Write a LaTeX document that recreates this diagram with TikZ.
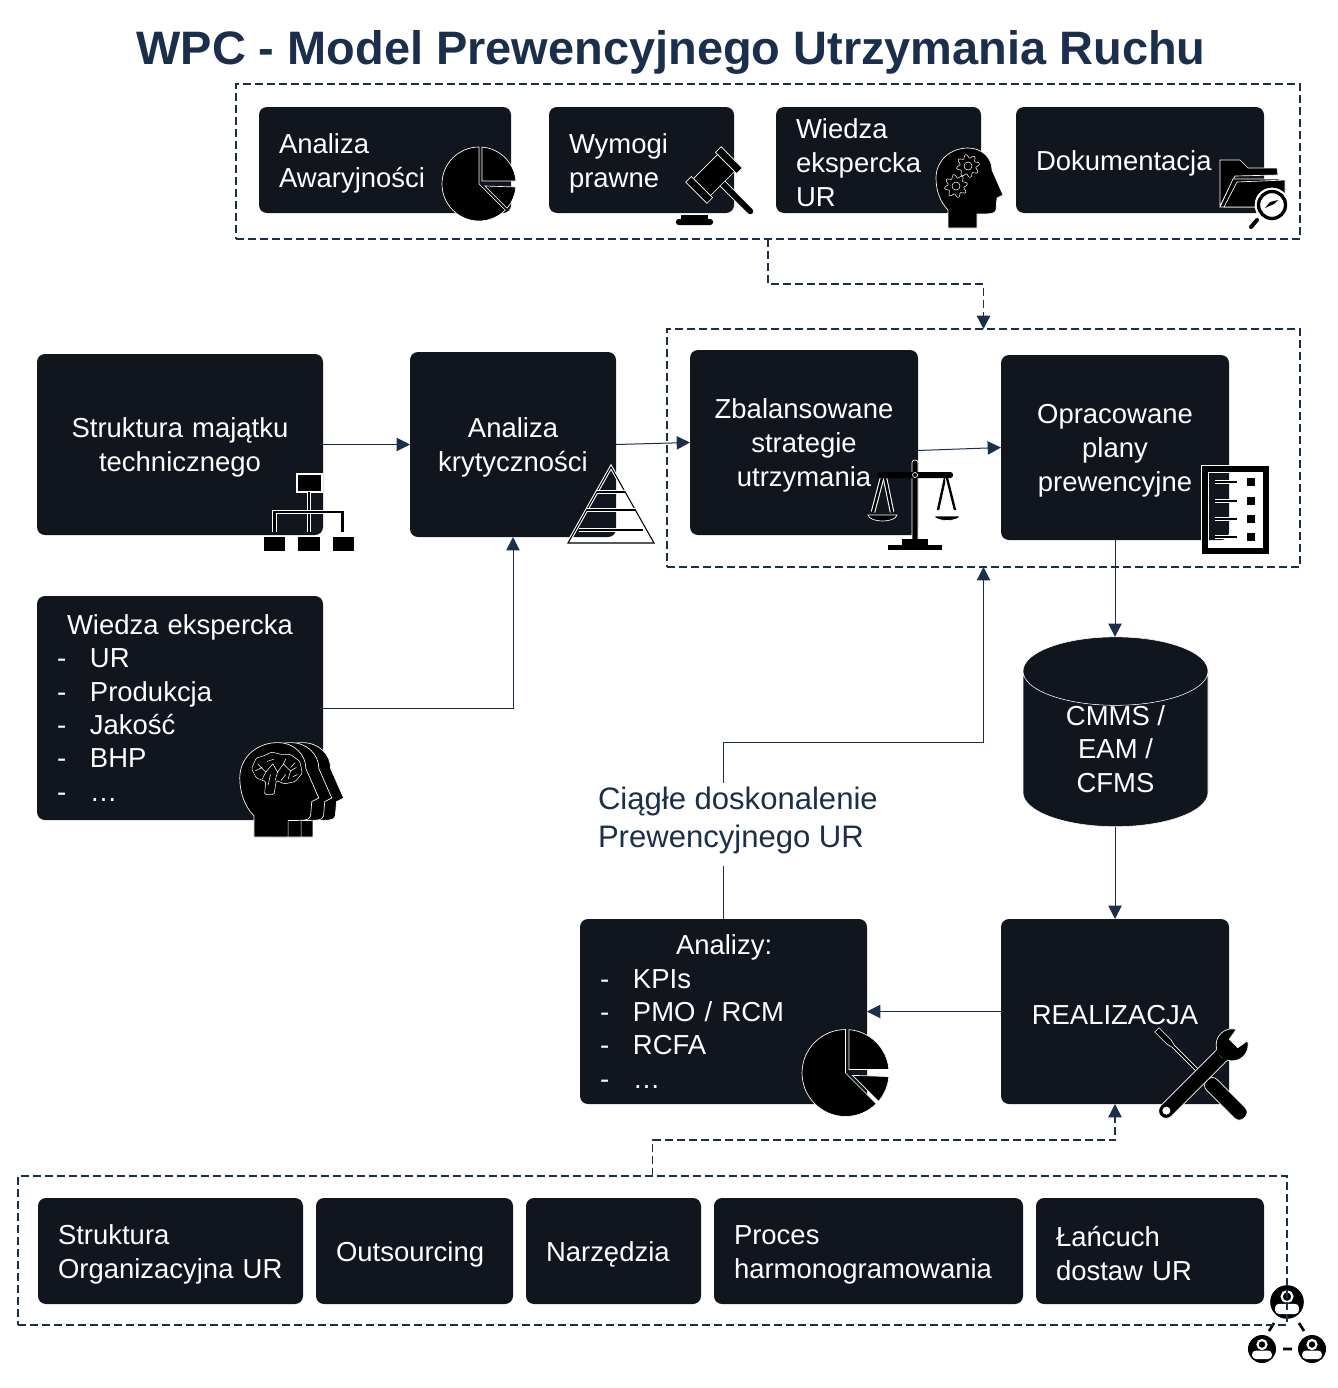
\documentclass[tikz,border=0pt]{standalone}
\usepackage{fontspec}
\setmainfont{Liberation Sans}
\usetikzlibrary{arrows.meta,shapes.geometric}

\definecolor{boxcol}{HTML}{10151E}
\definecolor{navy}{HTML}{1B2E4B}

\newcommand{\itemline}[1]{\makebox[24.75pt][l]{-}#1}

\newcommand{\pieicon}{
    \draw[icon] (0,0) -- (0,37) arc[start angle=90,end angle=315,radius=37] -- cycle;
    \draw[icon] (3,3) -- (3,36.9) arc[start angle=85.4,end angle=4.6,radius=37] -- cycle;
    \draw[icon] (6,-2) -- (36.9,-3) arc[start angle=-4.6,end angle=-40.6,radius=37] -- cycle;
}
\newcommand{\headicon}{
    \draw[icon] (-17,-50) -- (-17,-32) .. controls (-25,-24) and (-29,-12) .. (-29,0)
        .. controls (-29,18) and (-14,30) .. (3,30) .. controls (17,30) and (27,20) .. (27,8)
        -- (38,-17) -- (32,-20) -- (31,-32) .. controls (30,-36) and (26,-36) .. (12,-36)
        -- (12,-50) -- cycle;
}
\newcommand{\gearicon}{
    \draw[white, line width=0.4pt] plot[domain=0:355,samples=72] (\x:{9.8+1.8*sin(8*\x)}) -- cycle;
    \draw[white, line width=0.4pt] (0,0) circle (4);
}
\newcommand{\personicon}{
    \fill[black] (0,0) circle (14);
    \draw[white, line width=1.6pt] (0,4.5) circle (4.5);
    \fill[white, rounded corners=3pt] (-10,-10) -- (-10,-1.5) -- (10,-1.5) -- (10,-10) -- cycle;
}

\begin{document}
\begin{tikzpicture}[x=0.75pt,y=-0.75pt]
    \tikzstyle{arrow} = [-{Triangle[length=10pt,width=10pt]}, draw=navy, line width=0.75pt]
    \tikzstyle{darrow} = [arrow, dash pattern=on 6pt off 3pt, line width=1.1pt]
    \tikzstyle{lst} = [rectangle, fill=boxcol, text=white, rounded corners=6pt, inner xsep=15pt,
        inner ysep=0pt, outer sep=0pt, align=left, font=\fontsize{20.6}{25}\selectfont]
    \tikzstyle{rec} = [lst, align=center, font=\fontsize{20.6}{25.5}\selectfont,
        execute at begin node={\rule{0pt}{19.5pt}}]
    \tikzstyle{frame} = [rectangle, draw=navy, line width=1.1pt, dash pattern=on 6pt off 3pt,
        inner sep=0pt, outer sep=0pt]
    \tikzstyle{icon} = [fill=black, draw=white, line width=0.5pt]
    \tikzstyle{twin} = [draw=white, double=black, double distance=1.8pt, line width=0.8pt]

    \useasboundingbox (0,0) rectangle (1338,1388);

    \node(title) [text=navy, font=\fontsize{35.2}{40}\selectfont\bfseries] at (671,52) {WPC - Model Prewencyjnego Utrzymania Ruchu};

    \node(analizaaw) [rec, text width=159pt, minimum height=79.5pt, align=left]
        at (259,107) [anchor=north west] {Analiza\\Awaryjności};
    \node(wymogi) [rec, text width=108.75pt, minimum height=79.5pt, align=left]
        at (549,107) [anchor=north west] {Wymogi\\prawne};
    \node(wiedzaur) [rec, text width=123.75pt, minimum height=79.5pt, align=left]
        at (776,107) [anchor=north west] {Wiedza\\ekspercka\\UR};
    \node(dokum) [rec, text width=156pt, minimum height=79.5pt, align=left]
        at (1016,107) [anchor=north west] {Dokumentacja};

    \node(strukt) [rec, text width=184.5pt, minimum height=135.75pt]
        at (37,354) [anchor=north west] {Struktura majątku\\technicznego};
    \node(krytycz) [rec, text width=124.5pt, minimum height=138.75pt]
        at (410,352) [anchor=north west] {Analiza\\krytyczności};
    \node(strategie) [rec, text width=141pt, minimum height=138.75pt]
        at (690,350) [anchor=north west] {Zbalansowane\\strategie\\utrzymania};
    \node(plany) [rec, text width=141pt, minimum height=138.75pt]
        at (1001,355) [anchor=north west] {Opracowane\\plany\\prewencyjne};

    \node(wiedza) [lst, text width=184.5pt, minimum height=168pt]
        at (37,596) [anchor=north west]
        {\hspace*{7.5pt}Wiedza ekspercka\\\itemline{UR}\\\itemline{Produkcja}\\\itemline{Jakość}\\\itemline{BHP}\\\itemline{…}};

    \node(cmms) [cylinder, shape border rotate=90, aspect=0.69, minimum height=96pt, minimum width=138.75pt,
        draw=white, cylinder uses custom fill, cylinder end fill=boxcol, cylinder body fill=boxcol,
        text=white, align=center, inner sep=0pt, outer sep=0pt, font=\fontsize{20.6}{25}\selectfont]
        at (1115.5,749) {CMMS /\\EAM /\\CFMS};

    \node(analizy) [lst, text width=185.25pt, minimum height=138.75pt]
        at (580,919) [anchor=north west]
        {\hspace*{57pt}Analizy:\\\itemline{KPIs}\\\itemline{PMO / RCM}\\\itemline{RCFA}\\\itemline{…}};
    \node(realiz) [rec, text width=141pt, minimum height=138.75pt]
        at (1001,919) [anchor=north west] {REALIZACJA};

    \node(orgur) [rec, text width=168.75pt, minimum height=79.5pt, align=left]
        at (38,1198) [anchor=north west] {Struktura\\Organizacyjna~UR};
    \node(outs) [rec, text width=117.75pt, minimum height=79.5pt, align=left]
        at (316,1198) [anchor=north west] {Outsourcing};
    \node(narz) [rec, text width=101.25pt, minimum height=79.5pt, align=left]
        at (526,1198) [anchor=north west] {Narzędzia};
    \node(proces) [rec, text width=201.75pt, minimum height=79.5pt, align=left]
        at (714,1198) [anchor=north west] {Proces\\harmonogramowania};
    \node(lancuch) [rec, text width=141pt, minimum height=79.5pt, align=left]
        at (1036,1198) [anchor=north west] {Łańcuch\\dostaw UR};

    \node(ciagle) [text=navy, align=left, inner sep=0pt, outer sep=0pt, minimum height=55.5pt,
        font=\fontsize{23.3}{28.5}\selectfont]
        at (598,820) [anchor=west] {Ciągłe doskonalenie\\Prewencyjnego UR};

    % ikony
    \begin{scope}[shift={(479,184)},y=0.75pt]
        \pieicon
    \end{scope}
    \begin{scope}[shift={(845.5,1073)},y=0.75pt,scale=1.175]
        \pieicon
    \end{scope}

    \begin{scope}[shift={(714,175)},y=0.75pt]
        \fill[black, rounded corners=2pt] (-38,-50) rectangle (-1,-44);
        \fill[black] (-33,-45) rectangle (-6,-40);
        \begin{scope}[rotate=45]
            \draw[icon, rounded corners=3pt] (-3.5,0) rectangle (3.5,-55);
            \draw[icon] (-17,-12) rectangle (17,12);
            \draw[icon] (-25,-15) rectangle (-17,15);
            \draw[icon] (17,-15) rectangle (25,15);
        \end{scope}
    \end{scope}

    \begin{scope}[shift={(965,178)},y=0.75pt]
        \headicon
        \begin{scope}[shift={(3,12)}]
            \gearicon
        \end{scope}
        \begin{scope}[shift={(-9,-8)}]
            \gearicon
        \end{scope}
    \end{scope}

    \begin{scope}[shift={(1250,190)},y=0.75pt]
        \draw[icon] (-30,-16) -- (-30,30) -- (-10,30) -- (-2,22) -- (27,22) -- (28,15) -- (-15,14) -- cycle;
        \draw[icon] (-30,-17) -- (-17,11) -- (30,11) -- (10,-17) -- cycle;
        \draw[icon] (-26,-17) -- (-13,8) -- (35,10) -- (35,-3) -- (15,-17) -- cycle;
        \draw[line width=0.5pt, white, fill=white] (22,-15) circle (17);
        \draw[fill=white, draw=black, line width=2.5pt] (22,-15) circle (13.5);
        \fill[black] (15,-18) -- (24,-14) -- (28,-10) -- (20,-12) -- cycle;
        \draw[black, line width=3pt, line cap=round] (7,-30) -- (1,-37);
    \end{scope}

    \begin{scope}[shift={(309,512)},y=0.75pt]
        \draw[icon, line width=1.2pt] (-12,38) rectangle (13,20);
        \draw[twin] (0,20) -- (0,-20);
        \draw[twin] (-34.5,-20) -- (-34.5,0) -- (33.5,0) -- (33.5,-20);
        \fill[black] (-45,-25) rectangle (-24,-39);
        \fill[black] (-11,-25) rectangle (11,-39);
        \fill[black] (24,-25) rectangle (45,-39);
    \end{scope}

    \begin{scope}[shift={(611,505)},y=0.75pt]
        \draw[twin, double distance=0.8pt] (0,38) -- (-43,-38) -- (43,-38) -- cycle;
        \draw[twin, double distance=0.8pt] (-14,13) -- (14,13);
        \draw[twin, double distance=0.8pt] (-24,-5) -- (24,-5);
        \draw[twin, double distance=0.8pt] (-32,-25) -- (32,-25);
    \end{scope}

    \begin{scope}[shift={(915,505)},y=0.75pt]
        \draw[twin] (-33,27) -- (-42,-7);
        \draw[twin] (-30,27) -- (-23,-7);
        \draw[twin] (30,27) -- (23,-5);
        \draw[twin] (32,27) -- (40,-5);
        \draw[icon] (-47,-10) -- (-18,-10) .. controls (-20,-18) and (-45,-18) .. cycle;
        \draw[icon] (19,-11) -- (45,-11) .. controls (43,-17) and (21,-17) .. cycle;
        \draw[icon, rounded corners=2pt] (-3,45) -- (3,45) -- (3,-37) -- (-3,-37) -- cycle;
        \fill[black, rounded corners=2pt] (-38,33) rectangle (38,27);
        \fill[black] (-13,-34) rectangle (13,-40);
        \fill[black] (-27,-40) rectangle (27,-45);
        \draw[white, fill=black, line width=0.5pt] (0,30) circle (2.5);
    \end{scope}

    \begin{scope}[shift={(1235,510)},y=0.75pt]
        \draw[draw=white, double=black, double distance=4pt, line width=0.8pt] (-30,41) rectangle (31,-41);
        \foreach \ypos in {28,9,-9,-27} {
            \draw[twin, double distance=1.8pt, line width=0.8pt] (-20,\ypos) -- (2,\ypos);
            \fill[black] (12,\ypos-4) rectangle (20,\ypos+4);
        }
    \end{scope}

    \begin{scope}[y=0.75pt,shift={(274,-778)},scale=1.18]
        \begin{scope}[shift={(21,0)}]
            \headicon
        \end{scope}
        \begin{scope}[shift={(11,0)}]
            \headicon
        \end{scope}
        \headicon
        \draw[white, line width=0.4pt, rounded corners=1pt] (-19,8) -- (-15,17) -- (-8,19) -- (-2,22)
            -- (6,20) -- (14,20) -- (22,14) -- (24,4) -- (18,-3) -- (9,-5) -- (2,-2) -- (0,-14)
            -- (-8,-14) -- (-7,-3) -- (-15,0) -- cycle;
        \draw[white, line width=0.4pt] (-14,12) -- (-7,5) -- (-10,-1) (-7,5) -- (-1,12) -- (3,5) -- (8,12)
            -- (14,6) -- (19,9) (3,5) -- (1,-2) (-6,14) -- (0,16) (8,12) -- (10,16) (14,6) -- (12,-1)
            (-16,6) -- (-10,9) (-3,3) -- (-5,-6) (10,3) -- (6,-2) (18,13) -- (14,9) (20,3) -- (16,1);
    \end{scope}

    \begin{scope}[shift={(1200,1073)},y=0.75pt,rotate=-45]
        \draw[icon] (-61,-3) -- (-44,-3) -- (-38,-1.5) -- (-2,-1.5) -- (-2,1.5) -- (-38,1.5) -- (-44,3) -- (-61,3) -- cycle;
        \draw[icon, rounded corners=5pt] (10,-7.5) rectangle (63,7.5);
    \end{scope}
    \begin{scope}[shift={(1201,1076)},y=0.75pt,rotate=45]
        \draw[icon, rounded corners=6pt] (-57,-7.5) rectangle (38,7.5);
        \draw[icon] (57.9,8) arc[start angle=30,end angle=330,radius=16] -- (46,-6) -- (46,6) -- cycle;
        \fill[black] (28,-7) rectangle (40,7);
        \fill[white] (-49,0) circle (4);
    \end{scope}

    \begin{scope}[shift={(1287,1302)},y=0.75pt]
        \begin{scope}[scale=1.2]
            \personicon
        \end{scope}
        \begin{scope}[shift={(-25,-47)}]
            \personicon
        \end{scope}
        \begin{scope}[shift={(25,-47)}]
            \personicon
        \end{scope}
        \draw[black, line width=2pt] (-18,-29) -- (-13,-21) (12,-21) -- (17,-29) (-4,-47) -- (5,-47);
    \end{scope}

    \node(gora) [frame, minimum width=798pt, minimum height=116.25pt] at (236,84) [anchor=north west] {};
    \node(srodek) [frame, minimum width=474.75pt, minimum height=178.5pt] at (667,329) [anchor=north west] {};
    \node(dol) [frame, minimum width=951.75pt, minimum height=111.75pt] at (18,1176) [anchor=north west] {};

    \draw[arrow] (strukt.east) -- (krytycz.west);
    \draw[arrow] (krytycz.east) -- (strategie.west);
    \draw[arrow] ([yshift=-6pt]strategie.east) -- (plany.west);
    \draw[arrow] (wiedza.east) -| (krytycz.south);
    \draw[arrow] (plany.south) -- (plany.south |- cmms.north);
    \draw[arrow] (plany.south |- cmms.south) -- (realiz.north);
    \draw[arrow] (realiz.west) -- (analizy.east);
    \draw[draw=navy, line width=0.75pt, shorten >=6.75pt] (analizy.north) -- (analizy.north |- ciagle.south);
    \draw[arrow] (analizy.north |- ciagle.north) -- ++(0,-41) -| (srodek.south);
    \draw[darrow] (gora.south) -- ++(0,45) -| (srodek.north);
    \draw[darrow] (dol.north) -- ++(0,-36) -| (realiz.south);
\end{tikzpicture}
\end{document}
